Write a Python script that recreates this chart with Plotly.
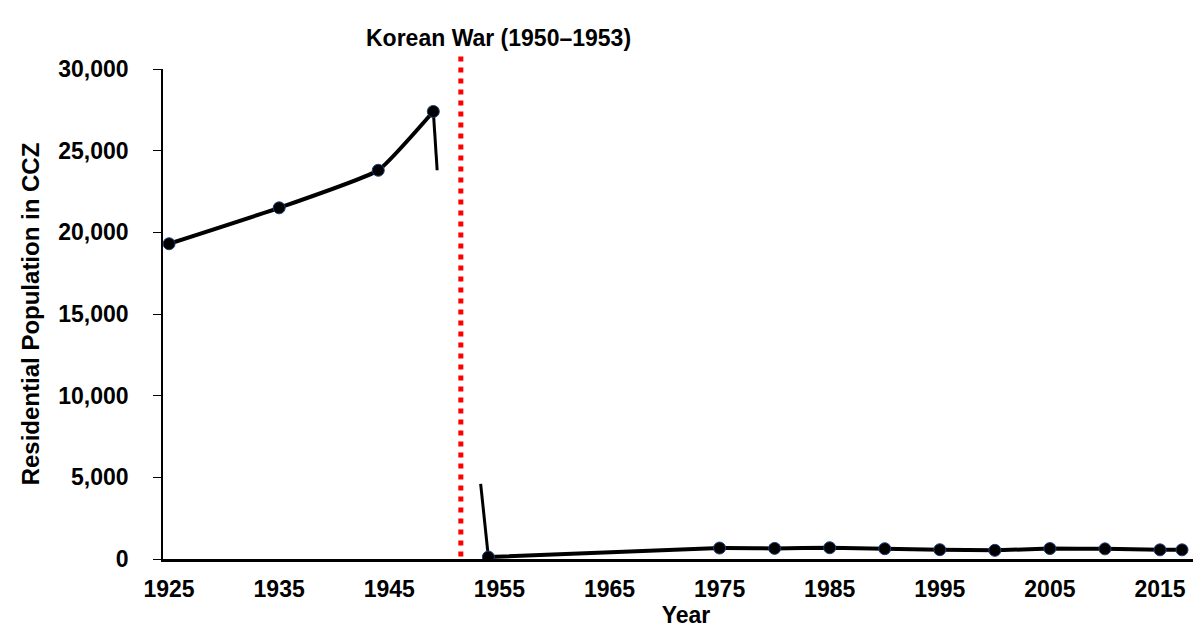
import plotly.graph_objects as go

# population
years_pre = [1925, 1935, 1944, 1949]
pop_pre = [19300, 21500, 23800, 27400]
years_post = [1954, 1975, 1980, 1985, 1990, 1995, 2000, 2005, 2010, 2015, 2017]
pop_post = [120, 670, 650, 690, 630, 570, 530, 640, 620, 560, 560]

# short spline overshoot stubs left around the war gap
stub_pre_x = [1949, 1949.35]
stub_pre_y = [27400, 23800]
stub_post_x = [1953.3, 1954]
stub_post_y = [4600, 120]

war_x = 1951.5
war_label = "Korean War (1950\u20131953)"
x_ticks = list(range(1925, 2016, 10))

FONT = "Liberation Sans, Arial, sans-serif"

fig = go.Figure()

for xs, ys in [(stub_pre_x, stub_pre_y), (stub_post_x, stub_post_y)]:
    fig.add_trace(go.Scatter(x=xs, y=ys, mode="lines",
                             line=dict(color="black", width=3),
                             hoverinfo="skip", showlegend=False))

for xs, ys in [(years_pre, pop_pre), (years_post, pop_post)]:
    fig.add_trace(go.Scatter(
        x=xs, y=ys, mode="lines+markers",
        line=dict(color="black", width=4, shape="spline", smoothing=0.4),
        marker=dict(color="black", size=12, line=dict(color="#1f3f7a", width=1)),
        showlegend=False,
    ))

fig.add_shape(type="line", x0=war_x, x1=war_x, xref="x", yref="paper",
              y0=0.005, y1=1.033, line=dict(color="#ff0000", width=5, dash="5px,6px"))
fig.add_annotation(x=1954.9, y=1.063, xref="x", yref="paper", text=war_label,
                   showarrow=False, yanchor="middle",
                   font=dict(family=FONT, size=23, color="black", weight="bold"))

fig.update_layout(
    width=1201, height=626,
    paper_bgcolor="white", plot_bgcolor="white",
    margin=dict(l=155, r=0, t=61, b=75),
    font=dict(family=FONT, color="black"),
    xaxis=dict(range=[1924.45, 2019.45], tickvals=x_ticks, showgrid=False,
               zeroline=False, showline=True, linecolor="black", linewidth=2.5,
               ticks="", ticklabelstandoff=8, tickfont=dict(size=23, weight="bold"),
               title=dict(text="Year", font=dict(size=23, weight="bold"), standoff=2)),
    yaxis=dict(range=[0, 30000], dtick=5000, tickformat=",", showgrid=False,
               zeroline=False, showline=True, linecolor="black", linewidth=1.5,
               ticks="outside", ticklen=8, tickcolor="black",
               ticklabelstandoff=20, tickfont=dict(size=23, weight="bold"),
               title=dict(text="Residential Population in CCZ",
                          font=dict(size=24, weight="bold"), standoff=12)),
)

fig.write_html("out.html")
